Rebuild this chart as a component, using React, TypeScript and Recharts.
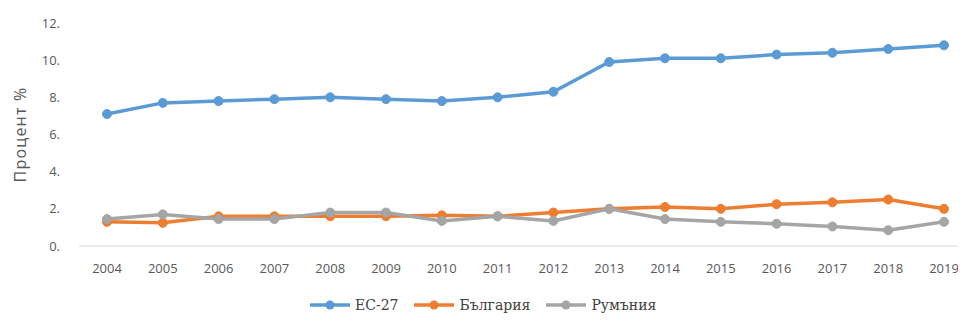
import { LineChart, Line, XAxis, YAxis } from 'recharts';

const years = ['2004', '2005', '2006', '2007', '2008', '2009', '2010', '2011', '2012', '2013', '2014', '2015', '2016', '2017', '2018', '2019'];
const eu27 = [7.1, 7.7, 7.8, 7.9, 8.0, 7.9, 7.8, 8.0, 8.3, 9.9, 10.1, 10.1, 10.3, 10.4, 10.6, 10.8];
const bulgaria = [1.3, 1.25, 1.6, 1.6, 1.6, 1.6, 1.65, 1.6, 1.8, 2.0, 2.1, 2.0, 2.25, 2.35, 2.5, 2.0];
const romania = [1.45, 1.7, 1.45, 1.45, 1.8, 1.8, 1.35, 1.6, 1.35, 2.0, 1.45, 1.3, 1.2, 1.05, 0.85, 1.3];
const yTicks = [0, 2, 4, 6, 8, 10, 12];

const SERIES = [
  { key: 'eu', name: 'ЕС-27', color: '#5B9BD5', values: eu27 },
  { key: 'bg', name: 'България', color: '#ED7D31', values: bulgaria },
  { key: 'ro', name: 'Румъния', color: '#A5A5A5', values: romania },
];

const data = years.map((year, i) => ({
  year,
  eu: eu27[i],
  bg: bulgaria[i],
  ro: romania[i],
}));

const tickFont = { fontFamily: '"Open Sans", sans-serif', fontSize: 13, fill: '#595959' };

function YLabel({ viewBox }: any) {
  const cx = 20;
  const cy = viewBox.y + viewBox.height / 2;
  return (
    <text
      x={cx}
      y={cy}
      transform={`rotate(-90 ${cx} ${cy})`}
      textAnchor="middle"
      dominantBaseline="central"
      fontFamily='"Open Sans", sans-serif'
      fontSize={16}
      letterSpacing={1.2}
      fill="#595959"
    >
      Процент %
    </text>
  );
}

export default function App() {
  return (
    <div style={{ margin: -8, width: 966, height: 322, overflow: 'hidden', position: 'relative', background: '#fff' }}>
      <LineChart width={972} height={322} data={data} margin={{ top: 23, right: 0, bottom: 46, left: 0 }}>
        <XAxis
          dataKey="year"
          stroke="#D9D9D9"
          tickLine={false}
          tick={tickFont}
          tickMargin={12}
          height={30}
          padding={{ left: 28, right: 28 }}
          interval={0}
        />
        <YAxis
          domain={[0, 12]}
          ticks={yTicks}
          tickFormatter={(v: number) => `${v}.`}
          axisLine={false}
          tickLine={false}
          tickSize={0}
          tickMargin={19}
          tick={tickFont}
          width={79}
          label={<YLabel />}
        />
        {SERIES.map((s) => (
          <Line
            key={s.key}
            dataKey={s.key}
            name={s.name}
            stroke={s.color}
            strokeWidth={3.5}
            dot={{ r: 4.5, fill: s.color, stroke: s.color, strokeWidth: 1 }}
            isAnimationActive={false}
          />
        ))}
      </LineChart>
      <div
        style={{
          position: 'absolute',
          top: 297,
          left: 310,
          display: 'flex',
          alignItems: 'center',
          gap: 16,
          fontFamily: '"DejaVu Serif", "Liberation Serif", serif',
          fontSize: 14,
          lineHeight: '16px',
          color: '#404040',
        }}
      >
        {SERIES.map((s) => (
          <div key={s.key} style={{ display: 'flex', alignItems: 'center', gap: 5 }}>
            <svg width={40} height={12}>
              <line x1={0} y1={6} x2={40} y2={6} stroke={s.color} strokeWidth={3.5} />
              <circle cx={20} cy={6} r={4.5} fill={s.color} />
            </svg>
            <span>{s.name}</span>
          </div>
        ))}
      </div>
    </div>
  );
}
